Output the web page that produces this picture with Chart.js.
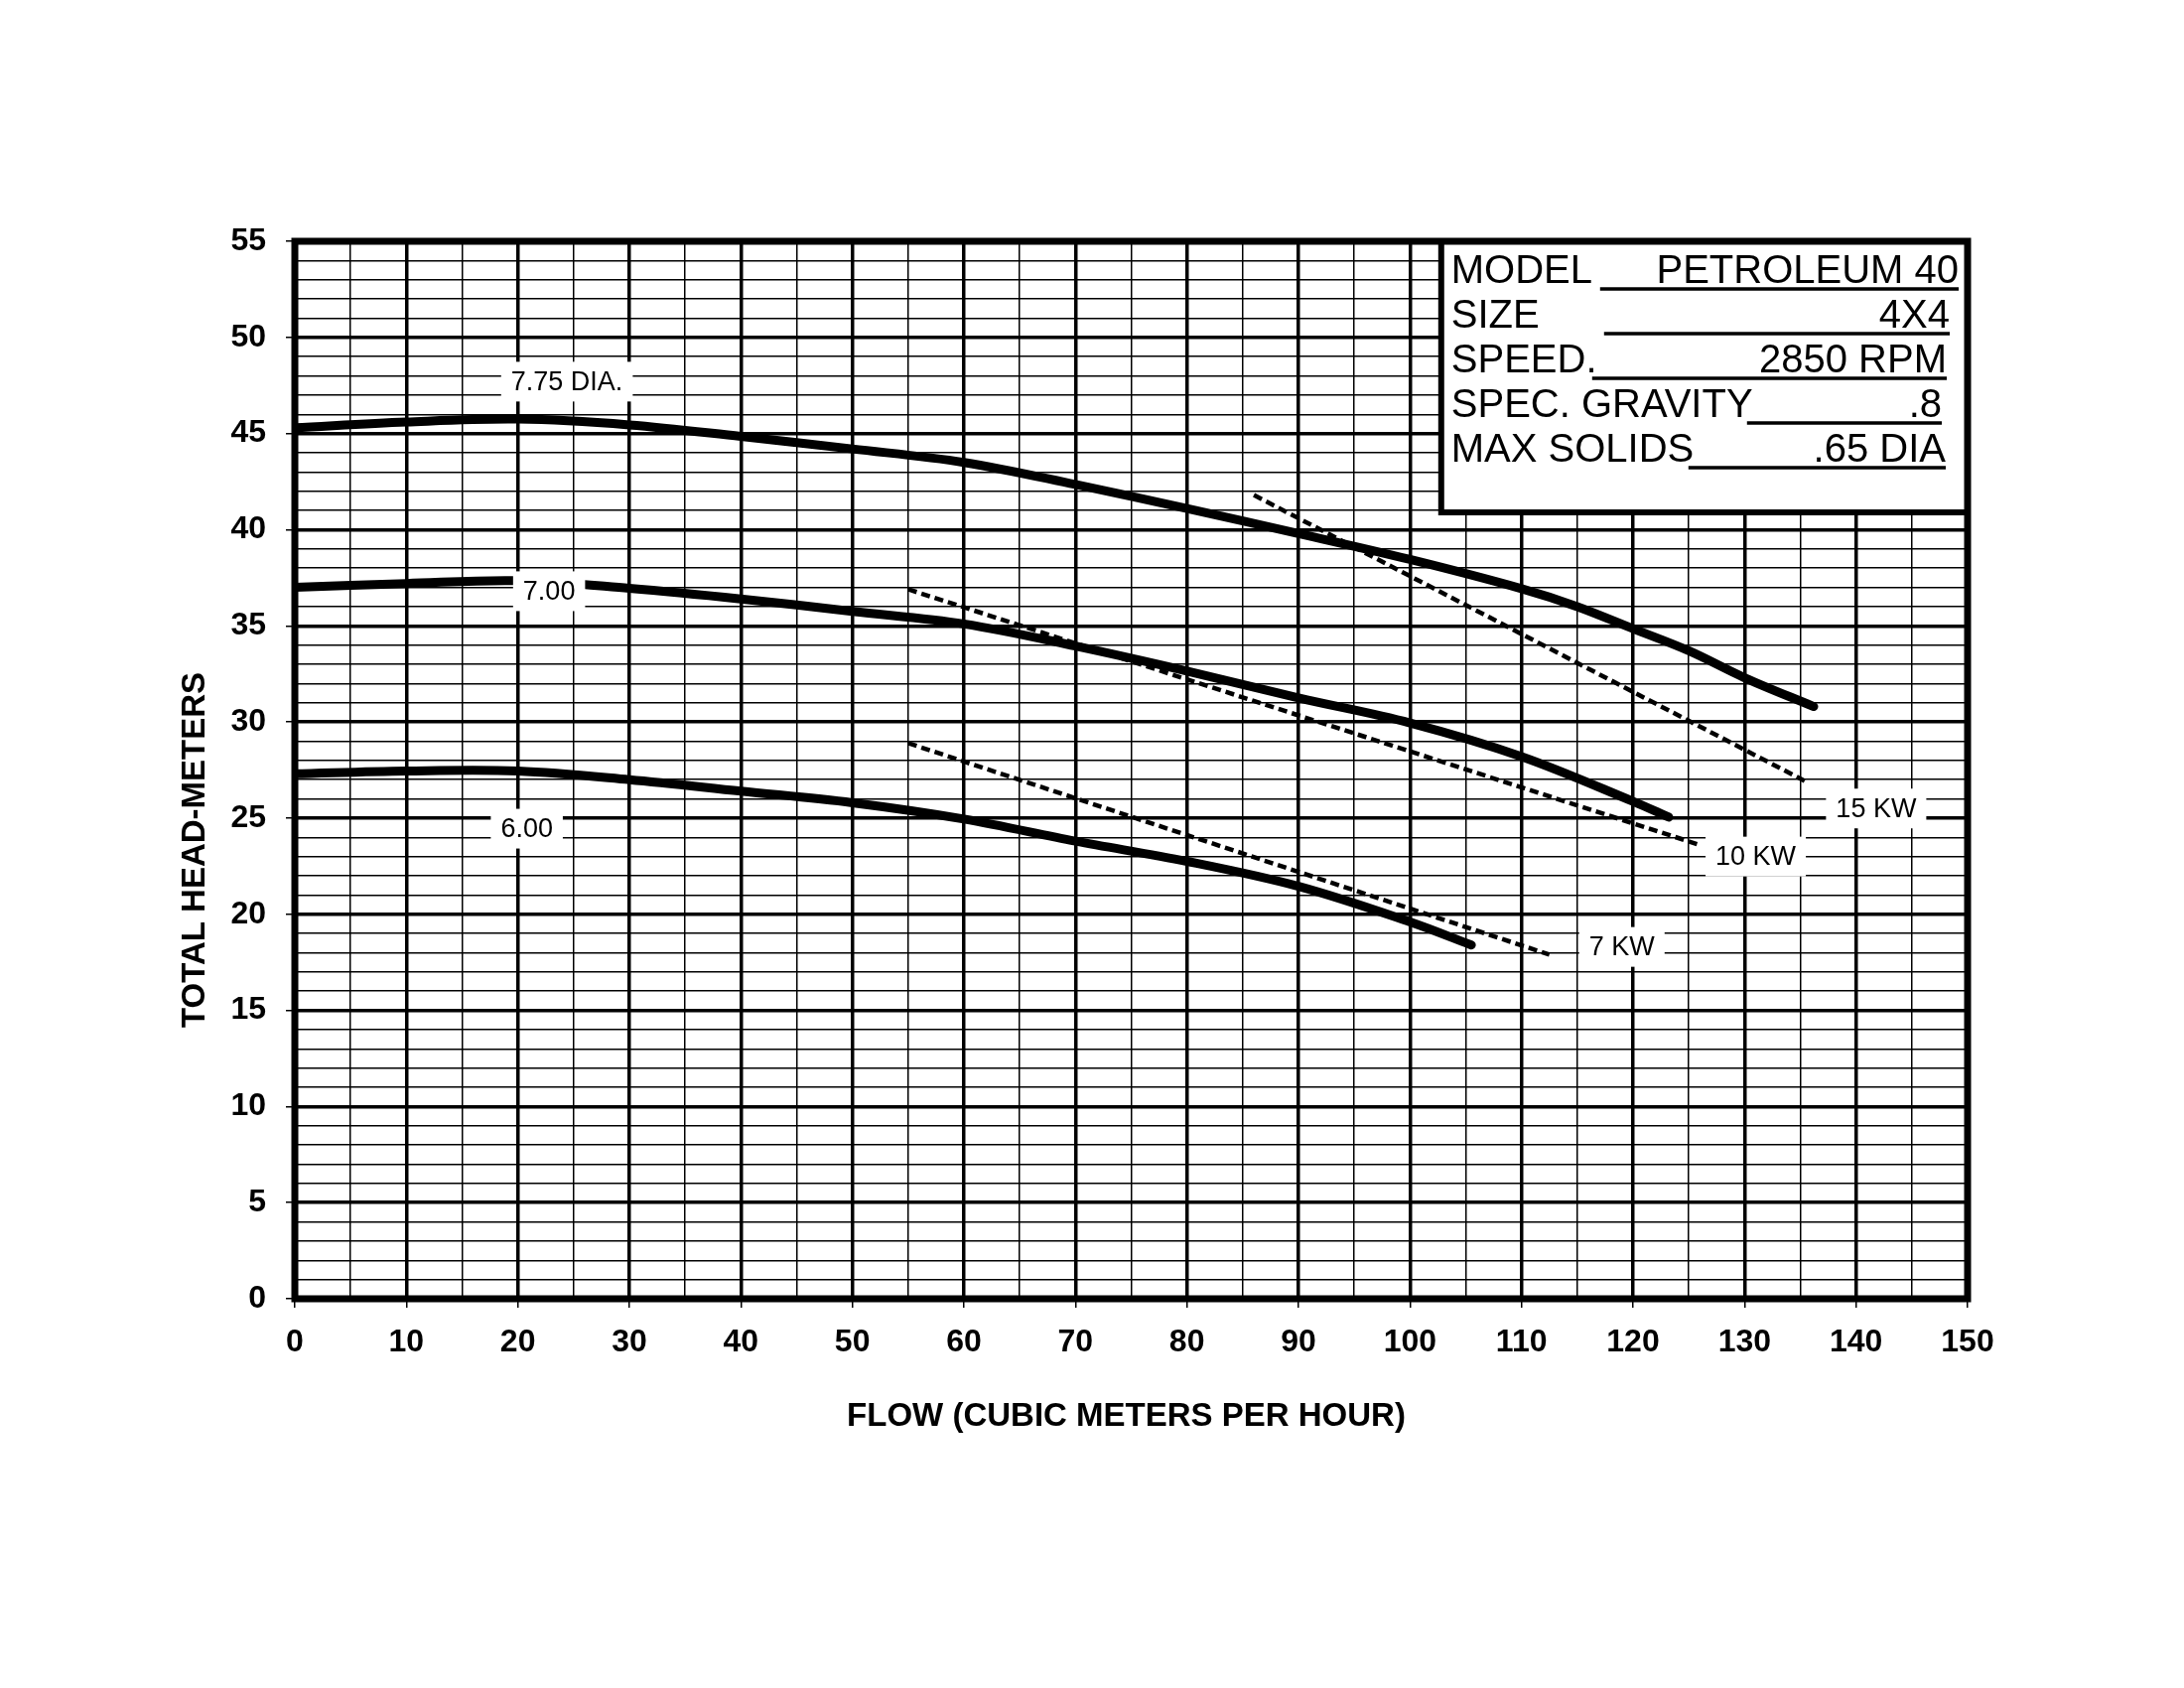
<!DOCTYPE html>
<html>
<head>
<meta charset="utf-8">
<script src="https://cdn.jsdelivr.net/npm/chart.js@4.4.1/dist/chart.umd.min.js"></script>
<style>
  body { margin: 0; background: #fff; }
  #wrap { width: 2200px; height: 1700px; position: relative; }
</style>
</head>
<body>
<div id="wrap"><canvas id="pumpchart"></canvas></div>
<script>
// pump curves (flow m3/h, head m)
let flow775 = [0, 10, 20, 30, 40, 50, 60, 70, 80, 90, 100, 110, 115, 120, 125, 130, 136.2];
let head775 = [45.3, 45.6, 45.75, 45.45, 44.85, 44.2, 43.5, 42.35, 41.1, 39.8, 38.45, 36.93, 36.0, 34.85, 33.7, 32.3, 30.8];
let flow700 = [0, 10, 20, 30, 40, 50, 60, 70, 80, 90, 100, 110, 120, 123.2];
let head700 = [37.0, 37.2, 37.35, 36.95, 36.4, 35.75, 35.1, 33.95, 32.65, 31.25, 29.95, 28.2, 25.87, 25.05];
let flow600 = [0, 10, 20, 30, 40, 50, 60, 70, 80, 90, 100, 105.5];
let head600 = [27.3, 27.45, 27.45, 27.0, 26.4, 25.8, 24.95, 23.8, 22.75, 21.45, 19.6, 18.4];

// power lines
let kw15Flow = [86, 135.5];
let kw15Head = [41.8, 26.9];
let kw10Flow = [55, 126];
let kw10Head = [36.9, 23.6];
let kw7Flow = [55, 112.5];
let kw7Head = [28.9, 17.9];

let curveLabels = ['7.75 DIA.', '7.00', '6.00', '15 KW', '10 KW', '7 KW'];
let labelFlow = [24.4, 22.8, 20.8, 141.8, 131, 119];
let labelHead = [47.7, 36.8, 24.45, 25.5, 23.0, 18.3];

let tableLabels = ['MODEL', 'SIZE', 'SPEED.', 'SPEC. GRAVITY', 'MAX SOLIDS'];
let tableValues = ['PETROLEUM 40', '4X4', '2850 RPM', '.8', '.65 DIA'];

let xTitle = 'FLOW (CUBIC METERS PER HOUR)';
let yTitle = 'TOTAL HEAD-METERS';

const FONT = "'Liberation Sans', Arial, sans-serif";

function pts(xs, ys) {
  return xs.map((x, i) => ({x: x, y: ys[i]}));
}

function curve(xs, ys) {
  return {
    data: pts(xs, ys),
    showLine: true,
    borderColor: '#000',
    borderWidth: 9,
    borderCapStyle: 'round',
    pointRadius: 0,
    tension: 0.35
  };
}

function kwLine(xs, ys) {
  return {
    data: pts(xs, ys),
    showLine: true,
    borderColor: '#000',
    borderWidth: 4.5,
    borderDash: [9, 5],
    pointRadius: 0
  };
}

// labels, data box, frame and axis titles
const overlay = {
  id: 'overlay',
  afterDatasetsDraw(chart) {
    let ctx = chart.ctx;
    let a = chart.chartArea;
    let x = chart.scales.x, y = chart.scales.y;
    ctx.save();

    // curve / kw labels on white boxes
    ctx.font = '27px ' + FONT;
    ctx.textAlign = 'center';
    ctx.textBaseline = 'middle';
    curveLabels.forEach((txt, i) => {
      let px = x.getPixelForValue(labelFlow[i]);
      let py = y.getPixelForValue(labelHead[i]);
      let w = ctx.measureText(txt).width + 20;
      ctx.fillStyle = '#fff';
      ctx.fillRect(px - w / 2, py - 20, w, 40);
      ctx.fillStyle = '#000';
      ctx.fillText(txt, px, py + 1);
    });

    // spec box
    let bx = x.getPixelForValue(102.8);
    let by = y.getPixelForValue(40.9);
    ctx.fillStyle = '#fff';
    ctx.fillRect(bx, a.top, a.right - bx, by - a.top);
    ctx.strokeStyle = '#000';
    ctx.lineWidth = 6;
    ctx.strokeRect(bx, a.top, a.right - bx, by - a.top);

    let lineStart = [160, 164, 152, 308, 249];
    let lineEnd = [9, 18, 21, 26, 22];
    ctx.font = '40px ' + FONT;
    ctx.textBaseline = 'alphabetic';
    ctx.fillStyle = '#000';
    tableLabels.forEach((lab, i) => {
      let base = a.top + 42 + i * 45;
      ctx.textAlign = 'left';
      ctx.fillText(lab, bx + 10, base);
      ctx.textAlign = 'right';
      ctx.fillText(tableValues[i], a.right - lineEnd[i], base);
      ctx.lineWidth = 3.5;
      ctx.beginPath();
      ctx.moveTo(bx + lineStart[i], base + 6);
      ctx.lineTo(a.right - lineEnd[i], base + 6);
      ctx.stroke();
    });

    // heavy frame
    ctx.lineWidth = 7;
    ctx.strokeRect(a.left, a.top, a.right - a.left, a.bottom - a.top);

    // axis titles
    ctx.font = 'bold 33px ' + FONT;
    ctx.textAlign = 'center';
    ctx.textBaseline = 'middle';
    ctx.fillText(xTitle, (a.left + a.right) / 2 - 5, a.bottom + 119);
    ctx.translate(a.left - 100, a.top + 613);
    ctx.rotate(-Math.PI / 2);
    ctx.fillText(yTitle, 0, 0);
    ctx.restore();
  }
};

let ctx = document.getElementById('pumpchart').getContext('2d');
let pumpChart = new Chart(ctx, {
  type: 'scatter',
  data: {
    datasets: [
      curve(flow775, head775),
      curve(flow700, head700),
      curve(flow600, head600),
      kwLine(kw15Flow, kw15Head),
      kwLine(kw10Flow, kw10Head),
      kwLine(kw7Flow, kw7Head)
    ]
  },
  options: {
    responsive: true,
    maintainAspectRatio: false,
    animation: false,
    devicePixelRatio: 1,
    layout: { padding: { left: 0, top: 243, right: 218, bottom: 0 } },
    plugins: { legend: { display: false }, tooltip: { enabled: false } },
    scales: {
      x: {
        type: 'linear', min: 0, max: 150,
        afterFit: s => { s.height = 392; },
        border: { display: false },
        grid: {
          color: '#000',
          lineWidth: c => (c.tick && c.tick.value % 10 === 0) ? 3.5 : 1.5,
          tickColor: c => (c.tick && c.tick.value % 10 === 0) ? '#000' : 'rgba(0,0,0,0)',
          tickWidth: 1.5,
          tickLength: 9
        },
        ticks: {
          stepSize: 5, autoSkip: false, maxRotation: 0, padding: 16,
          color: '#000',
          font: { family: FONT, size: 32, weight: 'bold' },
          callback: v => v % 10 === 0 ? String(v) : ''
        }
      },
      y: {
        type: 'linear', min: 0, max: 55,
        afterFit: s => { s.width = 297; },
        border: { display: false },
        grid: {
          color: '#000',
          lineWidth: c => (c.tick && c.tick.value % 5 === 0) ? 3.5 : 1.5,
          tickColor: c => (c.tick && c.tick.value % 5 === 0) ? '#000' : 'rgba(0,0,0,0)',
          tickWidth: 1.5,
          tickLength: 9
        },
        ticks: {
          stepSize: 1, autoSkip: false, padding: 20,
          color: '#000',
          font: { family: FONT, size: 32, weight: 'bold' },
          callback: v => v % 5 === 0 ? String(v) : ''
        }
      }
    }
  },
  plugins: [overlay]
});
</script>
</body>
</html>
